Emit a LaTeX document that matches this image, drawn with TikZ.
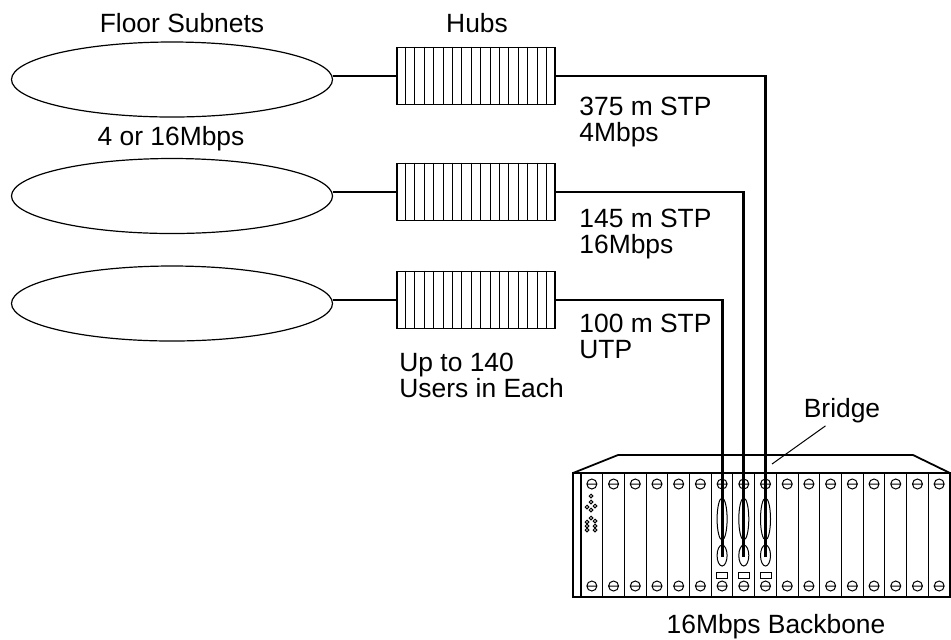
\documentclass[tikz,border=0pt]{standalone}
\usepackage{fontspec}
\setmainfont{Liberation Sans}
\usetikzlibrary{shapes,calc,positioning}

\begin{document}
\begin{tikzpicture}[x=0.5pt, y=-0.5pt,
  subnet/.style = {draw, ellipse, line width=0.6pt, minimum width=160.5pt, minimum height=37.5pt, inner sep=0pt},
  hub/.style = {draw, line width=0.8pt, minimum width=79pt, minimum height=28.5pt, inner sep=0pt},
  lbl/.style = {inner sep=0pt, align=left, font=\fontsize{13.2}{13}\selectfont},
  stub/.style = {line width=1pt},
  cable/.style = {line width=1.4pt},
  chassis/.style = {line width=0.9pt},
  slotline/.style = {line width=0.5pt},
  screw/.style = {line width=0.5pt}]
\useasboundingbox (0,0) rectangle (951,639);

% floor subnets and their hubs
\node[lbl, anchor=base] (floortitle) at (182,32) {Floor Subnets};
\node[lbl, anchor=base] (hubtitle) at (477,32) {Hubs};
\node[subnet] (net1) at (172,79.5) {};
\node[subnet] (net2) at (172,196) {};
\node[subnet] (net3) at (172,303.5) {};
\node[lbl, anchor=base] (speed) at (171,145) {4 or 16Mbps};
\node[hub] (hub1) at (476,76) {};
\node[hub] (hub2) at (476,192) {};
\node[hub] (hub3) at (476,300) {};
% base of a two-line label is its last line
\node[lbl, anchor=base west] (users) at (399,397) {Up to 140\\Users in Each};

\foreach \h in {hub1,hub2,hub3} {
  \foreach \i in {1,...,16}
    \draw[slotline] ($(\h.north west)!\i/17!(\h.north east)$) -- ($(\h.south west)!\i/17!(\h.south east)$);
}
\draw[stub] (hub1.west -| net1.east) -- (hub1.west);
\draw[stub] (hub2.west -| net2.east) -- (hub2.west);
\draw[stub] (hub3.west -| net3.east) -- (hub3.west);

% link lengths
\node[lbl, anchor=base west] (link1) at (579,141) {375 m STP\\4Mbps};
\node[lbl, anchor=base west] (link2) at (579,253) {145 m STP\\16Mbps};
\node[lbl, anchor=base west] (link3) at (579,358) {100 m STP\\UTP};

% bridge chassis
\draw[chassis] (573,473) -- (618,455) -- (913,455) -- (950,473);
\draw[chassis] (573,473) rectangle (950,597);
\draw[chassis] (581,473) -- (581,597);
\foreach \k in {1,...,16}
  \draw[slotline] ({581+\k*21.706},473) -- ({581+\k*21.706},597);
\foreach \k in {0,...,16} {
  \foreach \sy in {484,586}
    \draw[screw] ({581+(\k+0.5)*21.706},\sy) circle (2.5pt) ++(-2.5pt,0) -- ++(5pt,0);
}
% status leds
\foreach \dx/\dy in {591/496,591/502,587/507,595/506,591/510,591/518,587/522,595/521,587/526,595/526,587/530,595/530}
  \draw[screw] (\dx,\dy) circle (0.9pt);
% ports
\foreach \k/\p in {6/3,7/2,8/1} {
  \coordinate (port\p) at ({581+(\k+0.5)*21.706},557);
  \draw[screw] ($(port\p)+(0,-38)$) ellipse (2.5pt and 10.5pt);
  \draw[screw] ($(port\p)+(0,-1.5)$) ellipse (2.5pt and 5.25pt);
  \draw[screw] ($(port\p)+(-5.5,15)$) rectangle ($(port\p)+(5.5,21)$);
}

\node[lbl, anchor=base] (bridgelbl) at (842,417) {Bridge};
\coordinate (bridgetip) at (772,464);
\draw[slotline] (bridgelbl.south west) ++(22,3) -- (bridgetip);
\node[lbl, anchor=base] (backbone) at (776,633) {16Mbps Backbone};

% cables to the bridge
\draw[cable] (hub1.east) -| (port1);
\draw[cable] (hub2.east) -| (port2);
\draw[cable] (hub3.east) -| (port3);
\end{tikzpicture}
\end{document}
